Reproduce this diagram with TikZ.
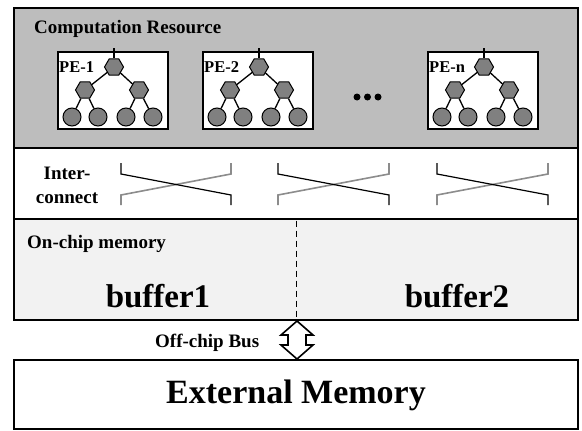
\documentclass[tikz,border=0pt]{standalone}
\usepackage{fontspec}
\setmainfont{Liberation Serif}
\usetikzlibrary{shapes.geometric}
\definecolor{compgray}{RGB}{189,189,189}
\definecolor{hexgray}{RGB}{128,128,128}
\definecolor{memgray}{RGB}{242,242,242}
\definecolor{xgray}{RGB}{140,140,140}
\begin{document}
\begin{tikzpicture}[x=1pt,y=-1pt,
  panel/.style={draw=black, line width=2.4pt, outer sep=0pt, inner sep=0pt, anchor=north west, minimum width=564pt},
  pebox/.style={draw=black, line width=1.3pt, fill=white, outer sep=0pt, inner sep=0pt, anchor=north west, minimum width=110pt, minimum height=77pt},
  hexa/.style={regular polygon, regular polygon sides=6, minimum size=19pt, inner sep=0pt, draw=black, line width=1pt, fill=hexgray},
  leaf/.style={circle, minimum size=18pt, inner sep=0pt, draw=black, line width=1pt, fill=hexgray},
  tree/.style={line width=1.3pt},
  lbl/.style={font=\bfseries\fontsize{19}{24}\selectfont, inner sep=0pt},
  pelbl/.style={font=\bfseries\fontsize{16.5}{18}\selectfont, inner sep=0pt, anchor=west},
  big/.style={font=\bfseries\fontsize{33}{36}\selectfont, inner sep=0pt},
  dot/.style={circle, fill=black, minimum size=7pt, inner sep=0pt},
  xblack/.style={line width=1.2pt, black},
  xgrey/.style={line width=1.6pt, xgray}
]
\useasboundingbox (0,0) rectangle (582,431);
% panels
\node[panel, fill=compgray, minimum height=140pt] (comp) at (14,8) {};
\node[panel, fill=white, minimum height=71pt] (inter) at (14,148) {};
\node[panel, fill=memgray, minimum height=101pt] (mem) at (14,219) {};
\node[panel, fill=white, minimum height=69pt] (ext) at (14,360) {};

\node[lbl, anchor=west] (comptxt) at (34,29) {Computation Resource};

% PEs
\foreach \i/\x/\lab in {1/58/PE-1, 2/203/PE-2, n/428/PE-n}{
  \node[pebox] (pe\i) at (\x,52) {};
  \coordinate (stub\i) at (\x+56,48);
  \node[hexa] (r\i) at (\x+56,67) {};
  \node[hexa] (a\i) at (\x+27,90) {};
  \node[hexa] (b\i) at (\x+81,90) {};
  \node[leaf] (l1\i) at (\x+14,117) {};
  \node[leaf] (l2\i) at (\x+40,117) {};
  \node[leaf] (l3\i) at (\x+68,117) {};
  \node[leaf] (l4\i) at (\x+95,117) {};
  \draw[tree] (stub\i) -- (r\i);
  \draw[tree] (r\i) -- (a\i);
  \draw[tree] (r\i) -- (b\i);
  \draw[tree] (a\i) -- (l1\i);
  \draw[tree] (a\i) -- (l2\i);
  \draw[tree] (b\i) -- (l3\i);
  \draw[tree] (b\i) -- (l4\i);
  \node[pelbl] (pel\i) at (\x+1,67) {\lab};
}
\node[dot] (d1) at (357,97) {};
\node[dot] (d2) at (367.5,97) {};
\node[dot] (d3) at (378,97) {};

% interconnect
\node[lbl, align=center] (ictxt) at (67,185) {Inter-\\connect};
\foreach \xa/\xb in {121/231, 278/389, 437/548}{
  \draw[xgrey] (\xa,205) -- (\xa,195) -- (\xb,174) -- (\xb,163);
  \draw[xblack] (\xa,163) -- (\xa,174) -- (\xb,195) -- (\xb,205);
}

% memory
\node[lbl, anchor=west] (memtxt) at (27,244) {On-chip memory};
\coordinate (dtop) at (296,220.5);
\coordinate (dbot) at (296,318.5);
\draw[dashed, line width=1pt, dash pattern=on 6pt off 4pt] (dtop) -- (dbot);
\node[big] (buf1) at (158,296) {buffer1};
\node[big] (buf2) at (457,296) {buffer2};

% bus arrow
\coordinate (atop) at (297,321);
\coordinate (abot) at (297,359);
\draw[line width=1.6pt, line join=miter, fill=white]
  (atop) -- (281,335) -- (288,335) -- (288,345) -- (281,345) -- (abot)
  -- (313,345) -- (306,345) -- (306,335) -- (313,335) -- cycle;
\node[lbl, anchor=west] (bustxt) at (155,343) {Off-chip Bus};

% external memory
\node[font=\bfseries\fontsize{34}{36}\selectfont, inner sep=0pt] (exttxt) at (296,395) {External Memory};
\end{tikzpicture}
\end{document}
